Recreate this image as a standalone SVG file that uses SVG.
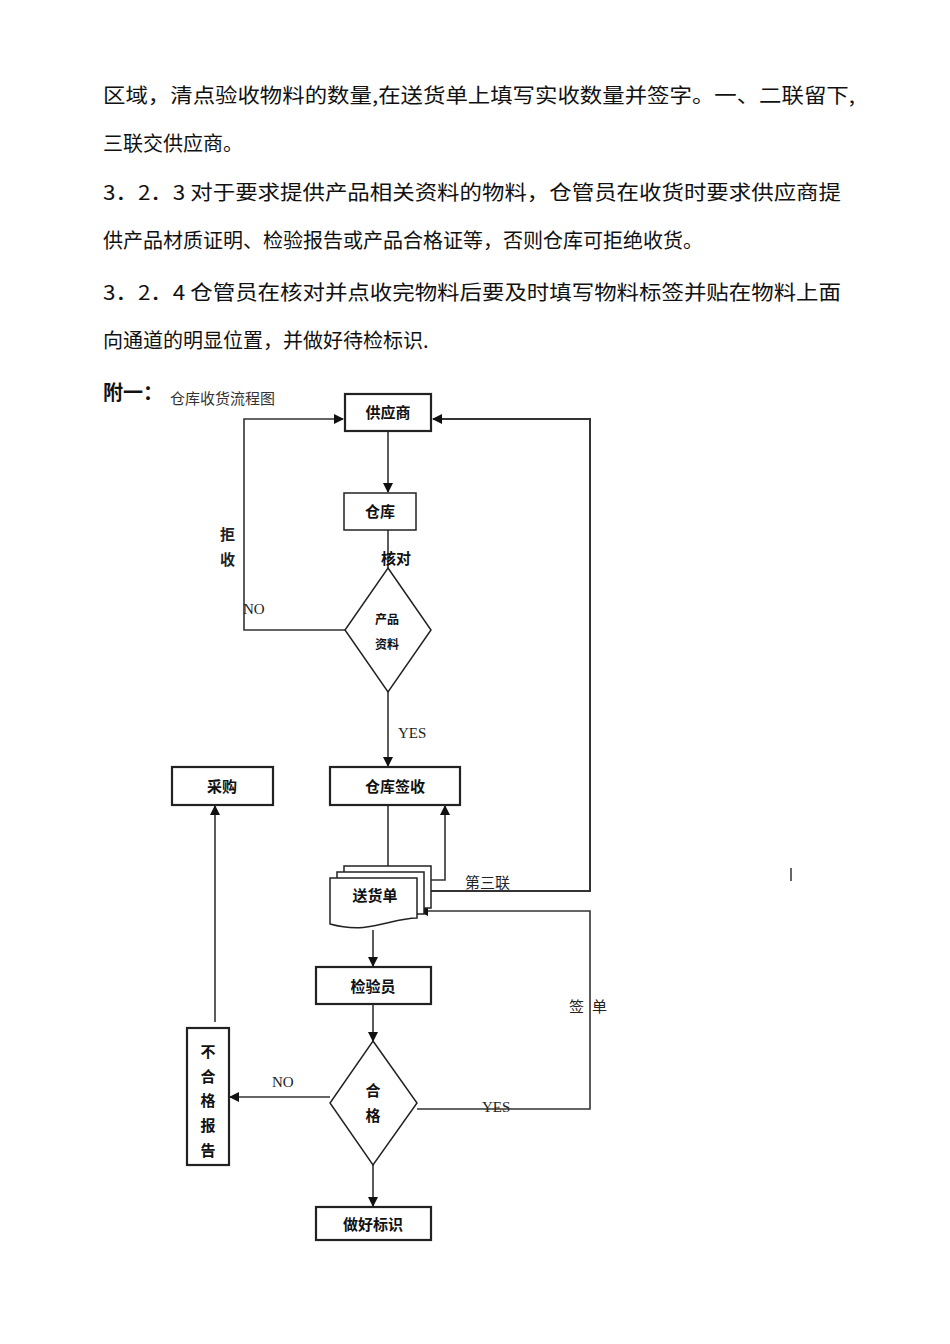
<svg xmlns="http://www.w3.org/2000/svg" width="950" height="1344" viewBox="0 0 950 1344">
<style>
.b{font-family:"Noto Sans CJK SC","Liberation Serif",serif;font-size:20px;fill:#111}
.n{fill:#fff;stroke:#222;stroke-width:1.5}
.nb{fill:#fff;stroke:#222;stroke-width:2.2}
.t{font-family:"Noto Sans CJK SC",sans-serif;font-size:15px;font-weight:bold;fill:#111;text-anchor:middle}
.l{font-family:"Liberation Serif","Noto Sans CJK SC",serif;font-size:15px;fill:#222}
.c{fill:none;stroke:#333;stroke-width:1.6}
</style>
<defs><marker id="a" markerWidth="10" markerHeight="10" refX="9" refY="5" orient="auto" markerUnits="userSpaceOnUse"><path d="M0,0 L10,5 L0,10 Z" fill="#111"/></marker></defs>
<rect width="950" height="1344" fill="#fff"/>
<g id="body">
<text class="b" x="103" y="103" textLength="752" lengthAdjust="spacingAndGlyphs">区域，清点验收物料的数量,在送货单上填写实收数量并签字。一、二联留下,</text>
<text class="b" x="103" y="151">三联交供应商。</text>
<text class="b" x="103" y="200" textLength="738" lengthAdjust="spacingAndGlyphs">3．2．3 对于要求提供产品相关资料的物料，仓管员在收货时要求供应商提</text>
<text class="b" x="103" y="248">供产品材质证明、检验报告或产品合格证等，否则仓库可拒绝收货。</text>
<text class="b" x="103" y="300" textLength="738" lengthAdjust="spacingAndGlyphs">3．2．4 仓管员在核对并点收完物料后要及时填写物料标签并贴在物料上面</text>
<text class="b" x="103" y="348">向通道的明显位置，并做好待检标识.</text>
<text class="b" x="103" y="400" style="font-weight:bold">附一：</text>
<text x="170" y="404" style="font-family:'Noto Sans CJK SC',sans-serif;font-size:15px;fill:#333">仓库收货流程图</text>
</g>
<g id="connectors">
<line class="c" x1="388" y1="431" x2="388" y2="492" marker-end="url(#a)"/>
<line class="c" x1="388" y1="530" x2="388" y2="568"/>
<polyline class="c" points="345,630 244,630 244,419 343,419" marker-end="url(#a)"/>
<line class="c" x1="388" y1="692" x2="388" y2="766" marker-end="url(#a)"/>
<polyline class="c" points="417,891 590,891 590,419 433,419" marker-end="url(#a)" style="stroke-width:2"/>
<line class="c" x1="388" y1="805" x2="388" y2="877" marker-end="url(#a)"/>
<polyline class="c" points="431,880 445,880 445,806" marker-end="url(#a)"/>
<polyline class="c" points="417,1109 590,1109 590,911 419,911" marker-end="url(#a)"/>
<line class="c" x1="373" y1="930" x2="373" y2="966" marker-end="url(#a)"/>
<line class="c" x1="373" y1="1004" x2="373" y2="1041" marker-end="url(#a)"/>
<line class="c" x1="330" y1="1097" x2="230" y2="1097" marker-end="url(#a)"/>
<line class="c" x1="215" y1="1022" x2="215" y2="806" marker-end="url(#a)"/>
<line class="c" x1="373" y1="1165" x2="373" y2="1206" marker-end="url(#a)"/>
<line x1="791" y1="868" x2="791" y2="881" stroke="#333" stroke-width="1.5"/>
<text class="l" x="220" y="540" style="font-family:'Noto Sans CJK SC';font-weight:bold">拒</text>
<text class="l" x="220" y="565" style="font-family:'Noto Sans CJK SC';font-weight:bold">收</text>
<text class="l" x="243" y="614">NO</text>
<text class="t" x="396" y="564">核对</text>
<text class="l" x="398" y="738">YES</text>
<text class="l" x="465" y="888" style="font-family:'Noto Sans CJK SC'">第三联</text>
<text class="l" x="569" y="1012" style="font-family:'Noto Sans CJK SC'">签</text>
<text class="l" x="592" y="1012" style="font-family:'Noto Sans CJK SC'">单</text>
<text class="l" x="272" y="1087">NO</text>
<text class="l" x="482" y="1112">YES</text>
</g>
<g id="n-supplier"><rect class="nb" x="345" y="394" width="86" height="37"/><text class="t" x="388" y="418">供应商</text></g>
<g id="n-warehouse"><rect class="n" x="344" y="493" width="72" height="37"/><text class="t" x="380" y="517">仓库</text></g>
<g id="n-data"><polygon class="n" points="388,568 431,630 388,692 345,630"/><text class="t" x="387" y="624" style="font-size:12px">产品</text><text class="t" x="387" y="649" style="font-size:12px">资料</text></g>
<g id="n-purchase"><rect class="nb" x="172" y="767" width="101" height="38"/><text class="t" x="222" y="792">采购</text></g>
<g id="n-sign"><rect class="nb" x="330" y="767" width="130" height="38"/><text class="t" x="395" y="792">仓库签收</text></g>
<g id="n-doc">
<rect class="n" x="344" y="866" width="87" height="42"/>
<rect class="n" x="337" y="872" width="87" height="42"/>
<path class="n" d="M330,878 H417 V918 C390,918 370,935 330,924 Z"/>
<text class="t" x="375" y="901">送货单</text>
</g>
<g id="n-inspector"><rect class="nb" x="316" y="967" width="115" height="37"/><text class="t" x="373" y="992">检验员</text></g>
<g id="n-pass"><polygon class="n" points="373,1041 417,1103 373,1165 330,1103"/><text class="t" x="373" y="1096">合</text><text class="t" x="373" y="1121">格</text></g>
<g id="n-report"><rect class="nb" x="187" y="1028" width="42" height="137"/>
<text class="t" x="208" y="1057">不</text><text class="t" x="208" y="1082">合</text><text class="t" x="208" y="1106">格</text><text class="t" x="208" y="1131">报</text><text class="t" x="208" y="1156">告</text></g>
<g id="n-mark"><rect class="nb" x="316" y="1207" width="115" height="33"/><text class="t" x="373" y="1230">做好标识</text></g>
</svg>
